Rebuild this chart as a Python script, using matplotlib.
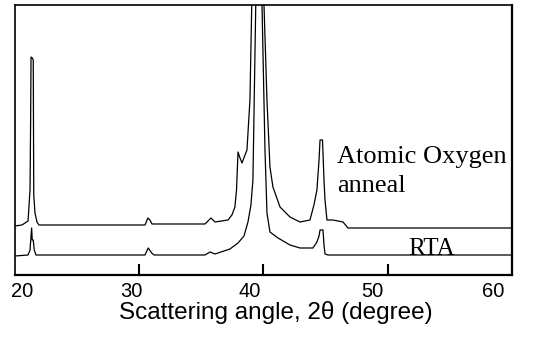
import matplotlib
matplotlib.use("Agg")
import matplotlib.pyplot as plt
import numpy as np

# Atomic Oxygen anneal trace (2theta in degrees, intensity in arbitrary units incl. offset)
ao_2theta = [20.0, 20.56, 21.05, 21.21, 21.26, 21.29, 21.39, 21.47, 21.51, 21.61, 21.77, 21.93,
             30.46, 30.70, 30.86, 31.03, 35.29, 35.77, 36.10, 37.14, 37.46, 37.70, 37.83, 37.95,
             38.11, 38.27, 38.51, 38.67, 38.91, 39.07, 39.56, 40.04, 40.28, 40.52, 40.76, 41.33,
             42.13, 42.94, 43.74, 44.06, 44.30, 44.47, 44.55, 44.75, 44.87, 44.95, 45.11, 45.59,
             46.40, 46.80, 60.0]
ao_int = [49, 50, 54, 85, 155, 218, 217, 215, 80, 62, 53, 50,
          50, 57, 55, 51, 51, 57, 53, 55, 60, 68, 85, 123,
          117, 112, 120, 125, 175, 280, 480, 270, 175, 108, 88, 68,
          58, 53, 55, 70, 85, 115, 135, 135, 95, 75, 55, 55,
          53, 47, 47]

# RTA trace
rta_2theta = [20.0, 21.05, 21.21, 21.34, 21.39, 21.47, 21.55, 21.69, 30.46, 30.73, 31.0, 31.2,
              35.29, 35.7, 36.1, 37.3, 37.95, 38.43, 38.75, 38.99, 39.15, 39.39, 39.64, 39.88,
              40.12, 40.28, 40.52, 41.17, 42.13, 42.94, 43.98, 44.30, 44.47, 44.55, 44.79, 44.87,
              44.95, 45.2, 60.0]
rta_int = [19, 20, 25, 47, 35, 35, 25, 20, 20, 27, 22, 20,
           20, 23, 21, 26, 32, 39, 53, 70, 95, 280, 480, 270,
           125, 62, 43, 37, 30, 27, 27, 33, 39, 45, 45, 30,
           21, 20, 20]

tick_values = [30, 40, 50]
tick_labels = ["20", "30", "40", "50", "60"]
tick_label_pos = [20.56, 29.4, 38.9, 48.75, 58.5]

fig = plt.figure(figsize=(5.43, 3.57), dpi=100)
ax = fig.add_axes([0.0276, 0.2297, 0.9153, 0.7563])

ax.plot(ao_2theta, ao_int, color="black", lw=0.9)
ax.plot(rta_2theta, rta_int, color="black", lw=0.9)

ax.set_xlim(20, 60)
ax.set_ylim(0, 270)
ax.set_yticks([])

ax.set_xticks(tick_values, minor=True)
ax.tick_params(axis="x", which="minor", direction="in", length=8, width=1.5, color="black")
ax.set_xticks(tick_label_pos, labels=tick_labels)
ax.tick_params(axis="x", which="major", length=0, pad=5)
for lab in ax.get_xticklabels():
    lab.set_fontfamily("Liberation Sans")
    lab.set_fontsize(14.5)

ax.set_xlabel("Scattering angle, 2θ (degree)", fontfamily="Liberation Sans",
              fontsize=17.5)
ax.xaxis.set_label_coords(0.524, -0.095, transform=ax.transAxes)
ax.xaxis.label.set_va("top")

for name, s in ax.spines.items():
    s.set_linewidth(1.6 if name in ("bottom", "right") else 1.2)
    s.set_color("black")

ax.text(45.92, 112, "Atomic Oxygen", fontfamily="Liberation Serif", fontsize=19,
        ha="left", va="baseline")
ax.text(45.92, 83, "anneal", fontfamily="Liberation Serif", fontsize=19,
        ha="left", va="baseline")
ax.text(51.63, 20, "RTA", fontfamily="Liberation Serif", fontsize=18,
        ha="left", va="baseline")

fig.savefig("out.png", dpi=100)
